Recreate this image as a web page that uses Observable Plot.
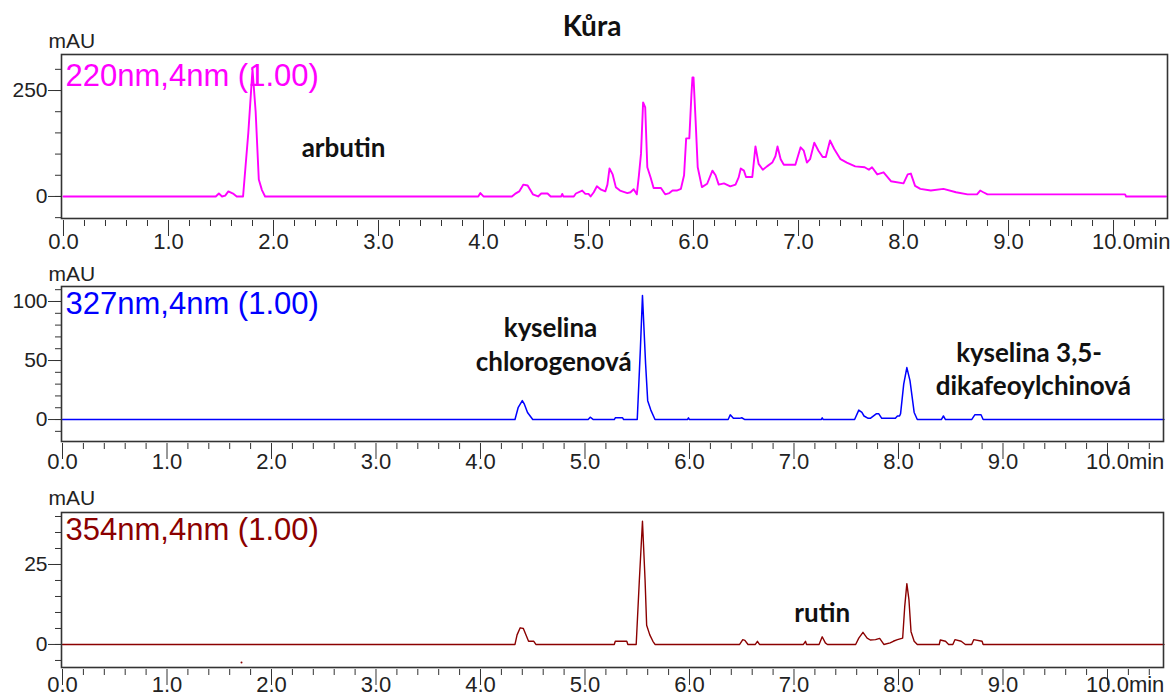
<!DOCTYPE html>
<html><head><meta charset="utf-8">
<script src="https://cdn.jsdelivr.net/npm/d3@7"></script>
<script src="https://cdn.jsdelivr.net/npm/@observablehq/plot@0.6"></script>
<style>
html,body{margin:0;padding:0;background:#fff;}
#wrap{position:relative;width:1171px;height:699px;overflow:hidden;background:#fff;}
#title{position:absolute;left:592px;top:11px;transform:translateX(-50%);font:bold 28px Lato,"Open Sans",sans-serif;line-height:1;color:#111;white-space:nowrap;}
.panel{position:absolute;left:0;}
.panel svg{overflow:visible;}
</style></head><body>
<div id="wrap"><div id="title">Kůra</div></div>
<script>
// ---- Data (retention time in min, absorbance in mAU) ----
const t220 = [0,1.45,1.48,1.51,1.54,1.57,1.62,1.65,1.71,1.76,1.80,1.83,1.86,1.89,1.92,3.95,3.97,4.0,4.27,4.30,4.34,4.38,4.42,4.47,4.52,4.55,4.61,4.64,4.74,4.75,4.76,4.86,4.88,4.94,4.97,5.0,5.02,5.05,5.08,5.12,5.16,5.18,5.20,5.23,5.26,5.30,5.37,5.40,5.43,5.46,5.48,5.50,5.52,5.54,5.56,5.59,5.62,5.66,5.69,5.73,5.77,5.80,5.84,5.88,5.91,5.93,5.96,5.98,5.99,6.0,6.02,6.04,6.08,6.13,6.18,6.21,6.24,6.29,6.35,6.40,6.43,6.45,6.48,6.50,6.56,6.59,6.62,6.66,6.70,6.75,6.78,6.80,6.83,6.86,6.97,7.02,7.05,7.08,7.11,7.15,7.19,7.23,7.26,7.30,7.34,7.40,7.46,7.54,7.63,7.67,7.70,7.75,7.81,7.88,8.0,8.04,8.07,8.11,8.16,8.26,8.38,8.50,8.61,8.70,8.73,8.76,8.80,10.11,10.12,10.5];
const a220 = [0,0,7,0,2,12,6,0,0,150,300,200,40,15,0,0,8,0,0,6,12,28,26,5,0,7,7,0,0,6,0,0,7,14,6,6,0,10,24,16,12,28,66,52,22,14,8,10,17,5,50,101,222,210,69,46,20,20,20,5,8,14,14,18,50,137,137,240,281,281,179,69,22,30,61,50,28,31,24,28,45,66,61,46,46,118,77,63,71,80,95,118,88,75,75,116,108,80,88,127,108,93,93,132,112,88,80,71,69,63,69,52,57,36,31,52,54,25,18,14,18,10,5,5,14,10,5,5,0,0];

const t327 = [0,4.33,4.36,4.40,4.42,4.45,4.50,5.03,5.05,5.08,5.28,5.29,5.36,5.37,5.50,5.53,5.55,5.58,5.60,5.63,5.67,5.98,5.99,6.0,6.37,6.39,6.42,6.48,6.50,6.53,7.26,7.27,7.28,7.58,7.62,7.65,7.67,7.71,7.73,7.79,7.81,7.84,7.97,7.99,8.01,8.02,8.05,8.08,8.11,8.15,8.18,8.41,8.43,8.45,8.70,8.73,8.79,8.81,10.54];
const a327 = [0,0,10,16,13,6,0,0,2,0,0,1.5,1.5,0,0,60,105,47,16,8,0,0,1.5,0,0,4,1,1,1.5,0,0,1.5,0,0,8,6,3,1,1,5,5,1,1,3,3,5,30,44,33,6,0,0,3,0,0,4,4,0,0];

const t354 = [0,4.33,4.35,4.38,4.41,4.46,4.51,4.53,5.28,5.29,5.40,5.41,5.49,5.52,5.55,5.575,5.59,5.62,5.65,5.67,6.48,6.51,6.53,6.56,6.63,6.65,6.67,7.09,7.11,7.12,7.24,7.27,7.30,7.32,7.59,7.62,7.66,7.70,7.73,7.78,7.82,7.86,7.92,7.95,7.99,8.04,8.06,8.08,8.10,8.12,8.15,8.18,8.39,8.40,8.45,8.48,8.52,8.54,8.60,8.64,8.70,8.72,8.80,8.81,10.54];
const a354 = [0,0,3,5.2,5,1,1,0,0,1,1,0,0,20,38.5,20,6,3,1,0,0,1.5,1.3,0,0,1,0,0,1,0,0,2.4,0.5,0,0,2,3.8,2,1.4,1.5,1.9,0,0.5,1,1.5,2,12,19,14,4,1,0,0,1.4,1,0,0,1.5,1,0,0,1.5,1,0,0];
const spot354 = [{t: 1.713, v: -5.6}];

// channel labels
const labels = ["220nm,4nm (1.00)", "327nm,4nm (1.00)", "354nm,4nm (1.00)"];
const colors = ["#ff00ff", "#0000ff", "#8b0000"];

// compound annotations (retention time, mAU at text baseline)
const notes220 = [{t: 2.667, v: 94, s: "arbutin"}];
const notes327 = [
  {t: 4.67, v: 69.7, s: "kyselina"},
  {t: 4.70, v: 40.7, s: "chlorogenová"},
  {t: 9.25, v: 48.5, s: "kyselina 3,5-"},
  {t: 9.29, v: 21, s: "dikafeoylchinová"}
];
const notes354 = [{t: 7.27, v: 6.9, s: "rutin"}];

// tick values
const xMajor = d3.range(0, 11);
const xMinor = d3.range(0, 53).filter(i => i % 5 !== 0).map(i => i / 5);
const yMajor220 = [0, 250], yMinor220 = d3.range(-50, 301, 50);
const yMajor327 = [0, 50, 100], yMinor327 = d3.range(-10, 111, 10);
const yMajor354 = [0, 25], yMinor354 = d3.range(-5, 41, 5);

const rows = (t, a) => t.map((x, i) => ({t: x, v: a[i]}));

function panel(o) {
  const fmt = d => d.toFixed(1);
  const marks = [
    Plot.axisY({ticks: o.yMinor, tickSize: 6, tickFormat: () => "", label: null, stroke: "#333"}),
    Plot.axisY({ticks: o.yMajor, tickSize: 13, tickPadding: 1, fontSize: 21, label: null, stroke: "#333", fill: "#222"}),
    Plot.axisX({ticks: xMinor, tickSize: 6, dy: 2, tickFormat: () => "", label: null, stroke: "#333"}),
    Plot.axisX({ticks: xMajor, tickSize: 16, dy: 2, tickPadding: o.xPad, fontSize: 22, tickFormat: fmt, label: null, stroke: "#333", fill: "#222"}),
    Plot.text([{t: 10, s: "min"}], {x: "t", text: "s", frameAnchor: "bottom", dx: 21.4, dy: 2 + 16 + o.xPad, lineAnchor: "top", textAnchor: "start", fontSize: 22, fill: "#222"}),
    Plot.line(o.data, {x: "t", y: "v", stroke: o.color, strokeWidth: o.sw}),
    ...(o.spots ? [Plot.dot(o.spots, {x: "t", y: "v", r: 1, fill: o.color, stroke: null})] : []),
    Plot.frame({stroke: "#333", strokeWidth: 1.6}),
    Plot.text([o.label], {frameAnchor: "top-left", dx: 4, dy: o.legendDy, lineAnchor: "bottom", textAnchor: "start", fontSize: 31, fill: o.color}),
    Plot.text(["mAU"], {frameAnchor: "top-left", dx: -13, dy: o.mauDy, lineAnchor: "bottom", textAnchor: "start", fontSize: 21, fill: "#222"}),
    Plot.text(o.notes, {x: "t", y: "v", text: "s", lineAnchor: "bottom", textAnchor: "middle", fontFamily: "Lato, 'Open Sans', sans-serif", fontWeight: "bold", fontSize: 26, fill: "#111"})
  ];
  const chart = Plot.plot({
    width: 1171, height: o.height,
    marginLeft: 61, marginRight: o.mr, marginTop: o.mt, marginBottom: o.mb,
    x: {domain: o.xDomain, label: null}, y: {domain: o.yDomain, label: null},
    style: {fontFamily: "'Liberation Sans', Arial, sans-serif", fontSize: "21px", color: "#222", background: "transparent"},
    marks
  });
  const div = document.createElement("div");
  div.className = "panel";
  div.style.top = o.top + "px";
  div.appendChild(chart);
  document.getElementById("wrap").appendChild(div);
}

panel({top: 30, height: 232, mt: 24, mb: 44, mr: 4, xDomain: [-0.019, 10.514], yDomain: [-52, 335],
  data: rows(t220, a220), color: colors[0], sw: 1.9, label: labels[0], notes: notes220,
  yMajor: yMajor220, yMinor: yMinor220, xPad: -3, legendDy: 31, mauDy: -7});
panel({top: 262, height: 222, mt: 24, mb: 43, mr: 8, xDomain: [-0.0096, 10.536], yDomain: [-18.6, 112.7],
  data: rows(t327, a327), color: colors[1], sw: 1.5, label: labels[1], notes: notes327,
  yMajor: yMajor327, yMinor: yMinor327, xPad: -6, legendDy: 27, mauDy: -6});
panel({top: 484, height: 215, mt: 28, mb: 32, mr: 8, xDomain: [-0.0096, 10.536], yDomain: [-7.2, 41.25],
  data: rows(t354, a354), color: colors[2], sw: 1.4, label: labels[2], notes: notes354, spots: spot354,
  yMajor: yMajor354, yMinor: yMinor354, xPad: -9, legendDy: 27, mauDy: -8});
</script>
</body></html>
